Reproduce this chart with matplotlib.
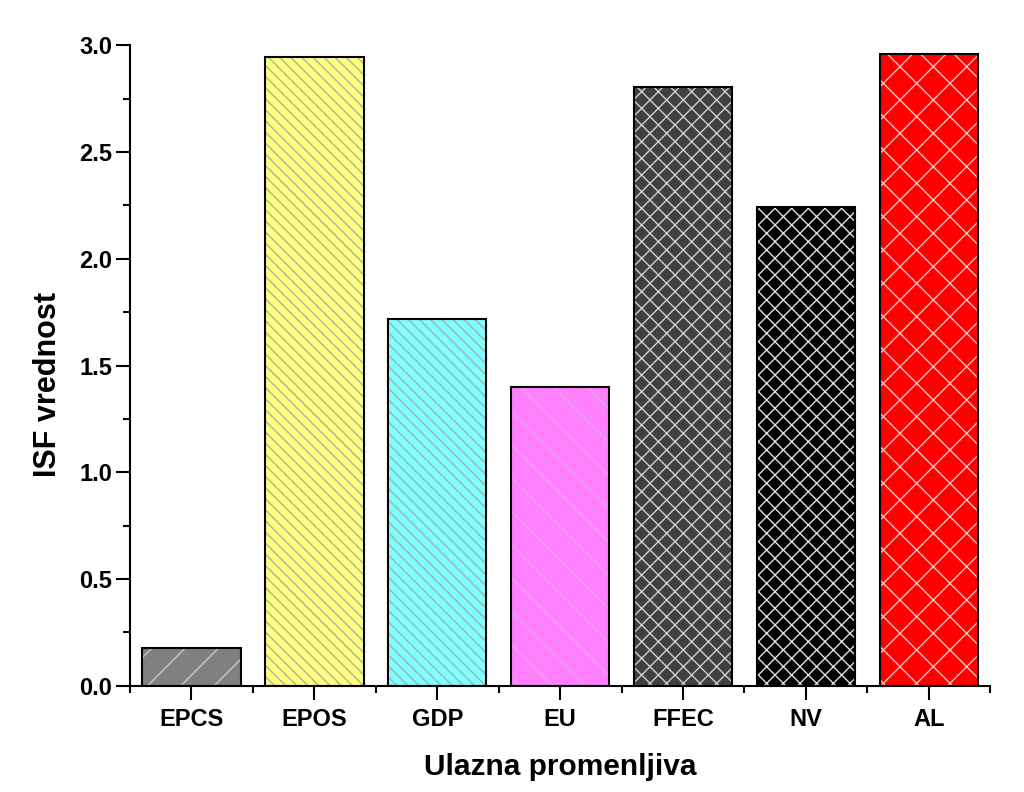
import matplotlib
matplotlib.use("Agg")
import matplotlib.pyplot as plt
import numpy as np
from matplotlib.ticker import MultipleLocator, FixedLocator

plt.rcParams["font.family"] = ["Liberation Sans", "DejaVu Sans"]
plt.rcParams["font.weight"] = "bold"
plt.rcParams["hatch.linewidth"] = 1.0

categories = ["EPCS", "EPOS", "GDP", "EU", "FFEC", "NV", "AL"]
values = [0.178, 2.943, 1.717, 1.399, 2.803, 2.241, 2.957]
fill_colors = ["#808080", "#ffff80", "#80ffff", "#ff80ff", "#404040", "#000000", "#ff0000"]
hatch_colors = ["#c8c8c8", "#b0b0a0", "#a0b0b0", "#e0a8e0", "#d0d0d0", "#e0e0e0", "#ffc0c0"]
hatches = ["/", "\\\\\\", "\\\\\\", "\\", "xx", "xx", "x"]

fig = plt.figure(figsize=(10.24, 7.92), dpi=100)
ax = fig.add_axes([0.127, 0.134, 0.84, 0.809])

x = np.arange(len(categories))
for xi, v, fc, hc, h in zip(x, values, fill_colors, hatch_colors, hatches):
    # fill + hatch first, then a black outline on top
    ax.bar(xi, v, width=0.8, color=fc, edgecolor=hc, hatch=h, linewidth=0, zorder=2)
    ax.bar(xi, v, width=0.8, facecolor="none", edgecolor="black", linewidth=1.5, zorder=3)

ax.set_xlim(-0.5, 6.5)
ax.set_ylim(0, 3.0)
ax.set_xticks(x)
ax.set_xticklabels(categories)
ax.xaxis.set_minor_locator(FixedLocator(np.arange(-0.5, 7, 1.0)))
ax.yaxis.set_major_locator(MultipleLocator(0.5))
ax.yaxis.set_minor_locator(MultipleLocator(0.25))
ax.yaxis.set_major_formatter(matplotlib.ticker.FormatStrFormatter("%.1f"))

for s in ["top", "right"]:
    ax.spines[s].set_visible(False)
for s in ["left", "bottom"]:
    ax.spines[s].set_linewidth(1.5)

ax.tick_params(which="major", direction="out", length=10, width=1.5, labelsize=17)
ax.tick_params(which="minor", direction="out", length=5, width=1.5)
ax.tick_params(axis="x", which="major", pad=6)
ax.tick_params(axis="y", which="major", pad=3)

ax.set_xlabel("Ulazna promenljiva", fontsize=21.5, fontweight="bold", labelpad=16)
ax.set_ylabel("ISF vrednost", fontsize=22, fontweight="bold")
ax.yaxis.set_label_coords(-0.078, 0.47)

fig.savefig("out.png", dpi=100, facecolor="white")
